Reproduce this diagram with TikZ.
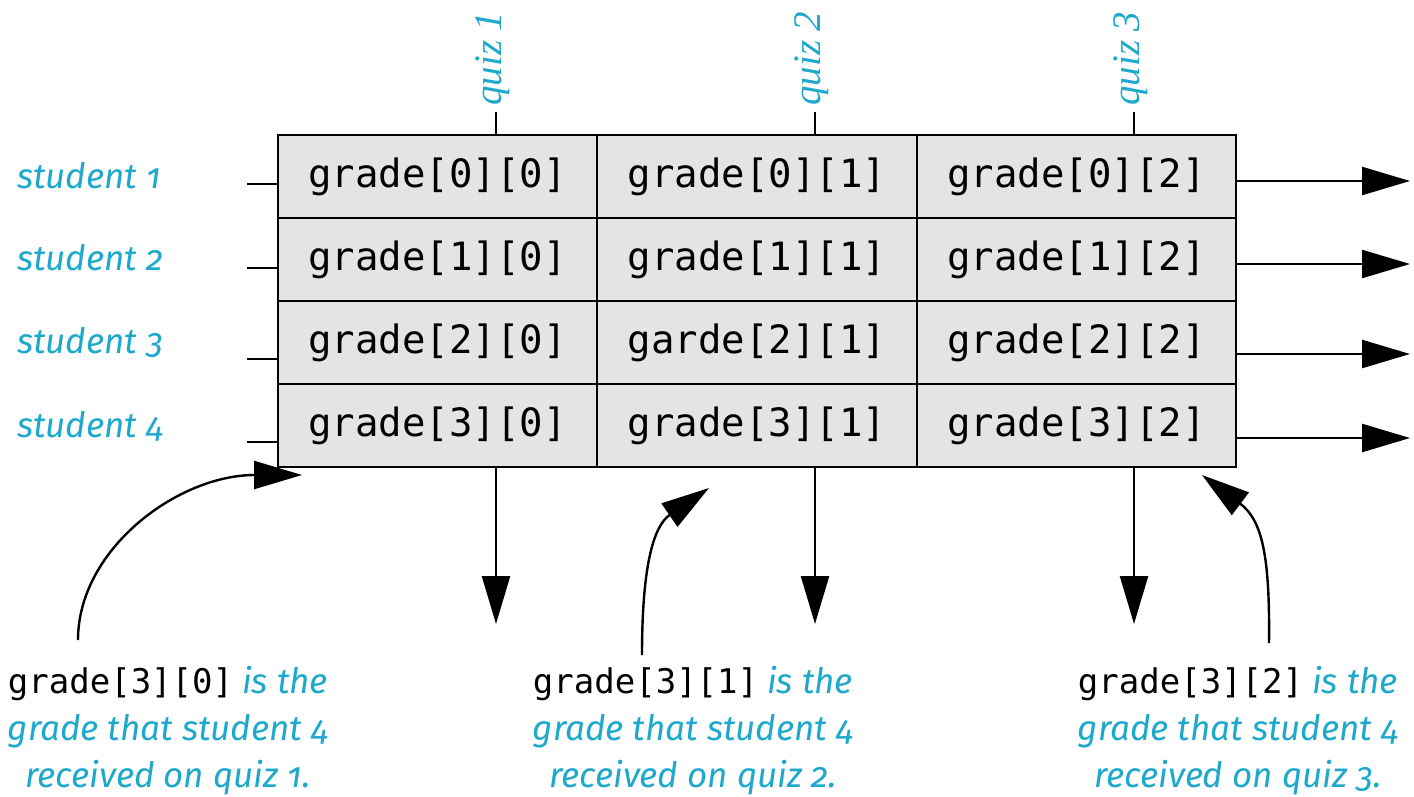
\documentclass[tikz,border=0pt]{standalone}
\usepackage{fontspec}
\setmonofont{DejaVu Sans Mono}
\newfontfamily\notefont[Numbers=OldStyle]{Fira Sans}
\newfontfamily\quizfont{Liberation Serif}
\usetikzlibrary{arrows.meta}
\definecolor{notecyan}{RGB}{30,168,204}
\definecolor{cellgray}{RGB}{228,228,228}
\tikzset{
  cell/.style={draw=black, fill=cellgray, line width=2.4pt, minimum width=319.5pt,
    minimum height=83pt, inner sep=0pt, font=\fontsize{39}{47}\selectfont\ttfamily},
  studentlabel/.style={anchor=base west, inner sep=0pt, text=notecyan,
    font=\fontsize{35}{42}\selectfont\notefont\itshape},
  quizlabel/.style={anchor=base west, rotate=90, inner sep=0pt, text=notecyan,
    font=\fontsize{39}{44}\selectfont\quizfont\itshape},
  note/.style={anchor=base, align=center, inner sep=0pt, text=notecyan,
    font=\fontsize{35}{47}\selectfont\notefont\itshape},
  bigarrow/.style={line width=2.4pt, -{Triangle[length=48pt, width=28pt]}},
  tick/.style={line width=2.4pt}
}
\newcommand{\notecode}[1]{{\fontsize{34}{47}\selectfont\upshape\ttfamily\color{black}#1}}
\begin{document}
\begin{tikzpicture}[x=1pt, y=-1pt]
\useasboundingbox (0,0) rectangle (1414,796);
% grid of grades
\node[cell] (g-0-0) at (437.5,176.5) {grade[0][0]};
\node[cell] (g-0-1) at (757,176.5) {grade[0][1]};
\node[cell] (g-0-2) at (1076.5,176.5) {grade[0][2]};
\node[cell] (g-1-0) at (437.5,259.5) {grade[1][0]};
\node[cell] (g-1-1) at (757,259.5) {grade[1][1]};
\node[cell] (g-1-2) at (1076.5,259.5) {grade[1][2]};
\node[cell] (g-2-0) at (437.5,342.5) {grade[2][0]};
\node[cell] (g-2-1) at (757,342.5) {garde[2][1]};
\node[cell] (g-2-2) at (1076.5,342.5) {grade[2][2]};
\node[cell] (g-3-0) at (437.5,425.5) {grade[3][0]};
\node[cell] (g-3-1) at (757,425.5) {grade[3][1]};
\node[cell] (g-3-2) at (1076.5,425.5) {grade[3][2]};
% students
\node[studentlabel] (s1) at (17,188) {student 1};
\node[studentlabel] (s2) at (17,270) {student 2};
\node[studentlabel] (s3) at (17,353) {student 3};
\node[studentlabel] (s4) at (17,437) {student 4};
\coordinate (in0) at (247,184);
\coordinate (in1) at (247,268);
\coordinate (in2) at (247,359);
\coordinate (in3) at (247,442);
\draw[tick] (in0) -- (in0 -| g-0-0.west);
\draw[tick] (in1) -- (in1 -| g-1-0.west);
\draw[tick] (in2) -- (in2 -| g-2-0.west);
\draw[tick] (in3) -- (in3 -| g-3-0.west);
\coordinate (out0) at (1410,181);
\coordinate (out1) at (1410,264);
\coordinate (out2) at (1410,354);
\coordinate (out3) at (1410,438);
\draw[bigarrow] (out0 -| g-0-2.east) -- (out0);
\draw[bigarrow] (out1 -| g-1-2.east) -- (out1);
\draw[bigarrow] (out2 -| g-2-2.east) -- (out2);
\draw[bigarrow] (out3 -| g-3-2.east) -- (out3);
% quizzes
\node[quizlabel] (quiz1) at (501,106) {quiz 1};
\node[quizlabel] (quiz2) at (820,106) {quiz 2};
\node[quizlabel] (quiz3) at (1139,106) {quiz 3};
\coordinate (q0) at (496,112);
\coordinate (q1) at (815,112);
\coordinate (q2) at (1134,112);
\draw[tick] (q0) -- (q0 |- g-0-0.north);
\draw[tick] (q1) -- (q1 |- g-0-1.north);
\draw[tick] (q2) -- (q2 |- g-0-2.north);
\coordinate (d0) at (496,624);
\coordinate (d1) at (815,624);
\coordinate (d2) at (1134,624);
\draw[bigarrow] (d0 |- g-3-0.south) -- (d0);
\draw[bigarrow] (d1 |- g-3-1.south) -- (d1);
\draw[bigarrow] (d2 |- g-3-2.south) -- (d2);
% notes
\node[note] (note1) at (168,787) {\notecode{grade[3][0]} is the\\grade that student 4\\received on quiz 1.};
\node[note] (note2) at (693,787) {\notecode{grade[3][1]} is the\\grade that student 4\\received on quiz 2.};
\node[note] (note3) at (1238,787) {\notecode{grade[3][2]} is the\\grade that student 4\\received on quiz 3.};
\coordinate (p1) at (78,640);
\coordinate (t1) at (302,475);
\coordinate (p2) at (642,655);
\coordinate (t2) at (709,488);
\coordinate (p3) at (1269,643);
\coordinate (t3) at (1202,475);
\draw[bigarrow] (p1) .. controls (78,549) and (178,475) .. (t1);
\draw[bigarrow] (p2) .. controls (642,560) and (655,525) .. (t2);
\draw[bigarrow] (p3) .. controls (1270,555) and (1262,520) .. (t3);
\end{tikzpicture}
\end{document}
